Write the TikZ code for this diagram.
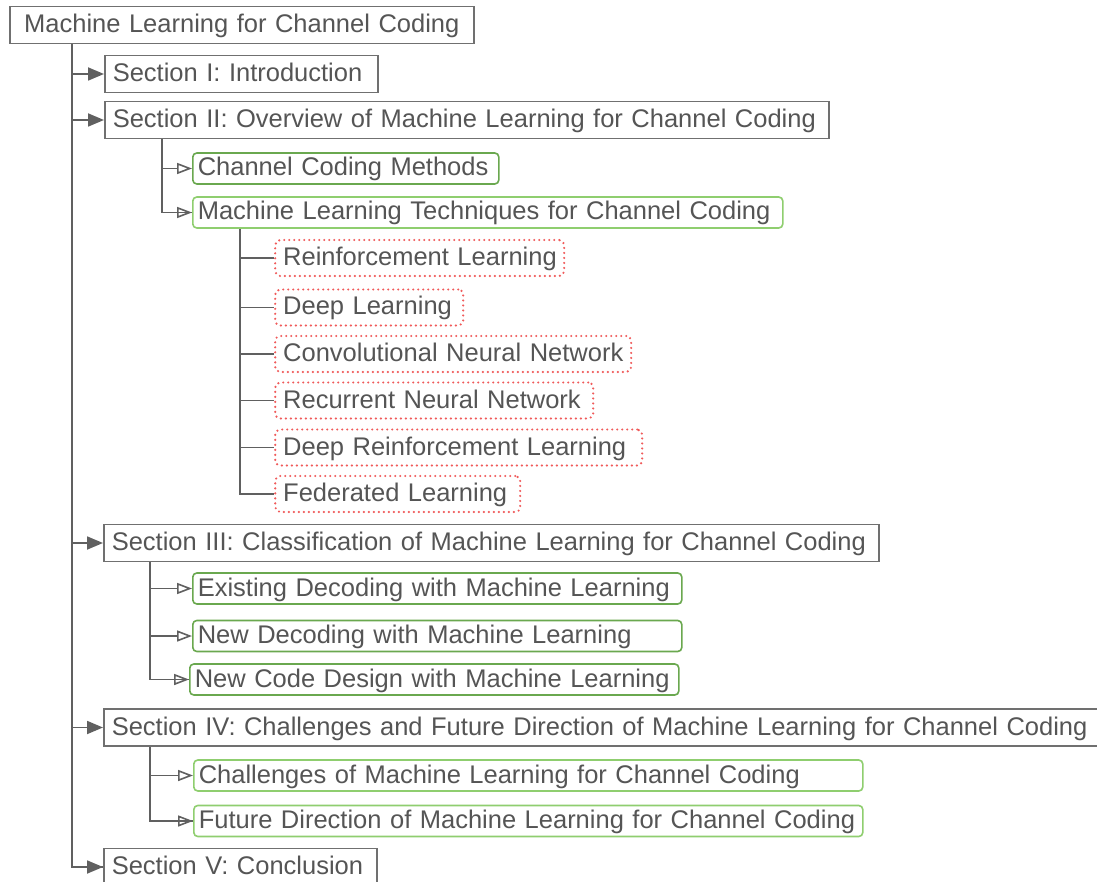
\documentclass[tikz,border=0pt]{standalone}
\usepackage{fontspec}
\setmainfont{Liberation Sans}
\usetikzlibrary{arrows.meta}
\definecolor{txtgray}{HTML}{555555}
\definecolor{secgray}{HTML}{707070}
\definecolor{lngray}{HTML}{606060}
\definecolor{grdark}{HTML}{6AA84F}
\definecolor{grlight}{HTML}{8FCE6F}
\definecolor{dotred}{HTML}{F05A5A}
\newcommand{\nowrap}[1]{\makebox[\linewidth][l]{#1}}
\tikzset{
  base/.style={anchor=west, text=txtgray, font=\fontsize{25.5}{30}\selectfont, inner ysep=0pt, text height=18pt, text depth=3pt, align=left, fill=white},
  sec/.style={base, draw=secgray, line width=1.6pt, inner xsep=8pt, minimum height=37pt},
  rootbox/.style={sec, inner xsep=10pt, align=center},
  grnd/.style={base, draw=grdark, line width=1.6pt, rounded corners=4pt, inner xsep=5pt, minimum height=31pt},
  grnl/.style={grnd, draw=grlight},
  redbox/.style={base, draw=dotred, line width=2.4pt, line cap=round, dash pattern=on 0pt off 5pt, rounded corners=5pt, inner xsep=8pt, minimum height=36pt},
  conn/.style={draw=lngray, line width=1.8pt},
  mainarr/.style={conn, -{Triangle[length=16pt,width=13pt]}},
  subarr/.style={conn, -{Triangle[open,length=15pt,width=11pt,line width=1.6pt]}},
}
\begin{document}
\begin{tikzpicture}[x=1pt,y=-1pt]
\useasboundingbox[fill=white] (0,0) rectangle (1097,882);

\node[rootbox, text width=444pt] (root) at (9,25) {Machine Learning for Channel Coding};

\node[sec, text width=257pt] (s1) at (104,74) {\nowrap{Section I: Introduction}};
\node[sec, text width=708pt] (s2) at (104,120) {\nowrap{Section II: Overview of Machine Learning for Channel Coding}};
\node[grnd, text width=296pt] (ccm) at (192,168.5) {\nowrap{Channel Coding Methods}};
\node[grnl, text width=580pt] (mlt) at (192,212.5) {\nowrap{Machine Learning Techniques for Channel Coding}};

\node[redbox, text width=273pt] (rl) at (274,258) {\nowrap{Reinforcement Learning}};
\node[redbox, text width=172pt] (dl) at (274,307.5) {\nowrap{Deep Learning}};
\node[redbox, text width=340pt] (cnn) at (274,354) {\nowrap{Convolutional Neural Network}};
\node[redbox, text width=302pt] (rnn) at (274,400.5) {\nowrap{Recurrent Neural Network}};
\node[redbox, text width=351pt] (drl) at (274,447.5) {\nowrap{Deep Reinforcement Learning}};
\node[redbox, text width=229pt] (fl) at (274,494) {\nowrap{Federated Learning}};

\node[sec, text width=759pt] (s3) at (103,543) {\nowrap{Section III: Classification of Machine Learning for Channel Coding}};
\node[grnd, text width=479pt] (ed) at (192,588.5) {\nowrap{Existing Decoding with Machine Learning}};
\node[grnd, text width=479pt] (nd) at (192,636) {\nowrap{New Decoding with Machine Learning}};
\node[grnd, text width=479pt] (ncd) at (189,679.5) {\nowrap{New Code Design with Machine Learning}};

\node[sec, text width=1020pt] (s4) at (103,727.5) {\nowrap{Section IV: Challenges and Future Direction of Machine Learning for Channel Coding}};
\node[grnl, text width=659pt] (cml) at (193,775.5) {\nowrap{Challenges of Machine Learning for Channel Coding}};
\node[grnl, text width=659pt] (fd) at (193,821) {\nowrap{Future Direction of Machine Learning for Channel Coding}};

\node[sec, text width=257pt] (s5) at (103,867) {\nowrap{Section V: Conclusion}};

% trunk
\coordinate (t) at ([xshift=63pt]root.south west);
\draw[conn] (t) |- (s5.west);
\foreach \s in {s1,s2,s3,s4,s5} \draw[mainarr] (t |- \s.west) -- (\s.west);

% section II branch
\coordinate (b2) at ([xshift=58pt]s2.south west);
\draw[conn] (b2) |- (mlt.west);
\foreach \s in {ccm,mlt} \draw[subarr] (b2 |- \s.west) -- (\s.west);

% ML techniques branch
\coordinate (bm) at ([xshift=48pt]mlt.south west);
\draw[conn] (bm) |- (fl.west);
\foreach \s in {rl,dl,cnn,rnn,drl} \draw[conn] (bm |- \s.west) -- (\s.west);

% section III branch
\coordinate (b3) at ([xshift=47pt]s3.south west);
\draw[conn] (b3) |- (ncd.west);
\foreach \s in {ed,nd,ncd} \draw[subarr] (b3 |- \s.west) -- (\s.west);

% section IV branch
\coordinate (b4) at ([xshift=47pt]s4.south west);
\draw[conn] (b4) |- (fd.west);
\foreach \s in {cml,fd} \draw[subarr] (b4 |- \s.west) -- (\s.west);
\end{tikzpicture}
\end{document}
